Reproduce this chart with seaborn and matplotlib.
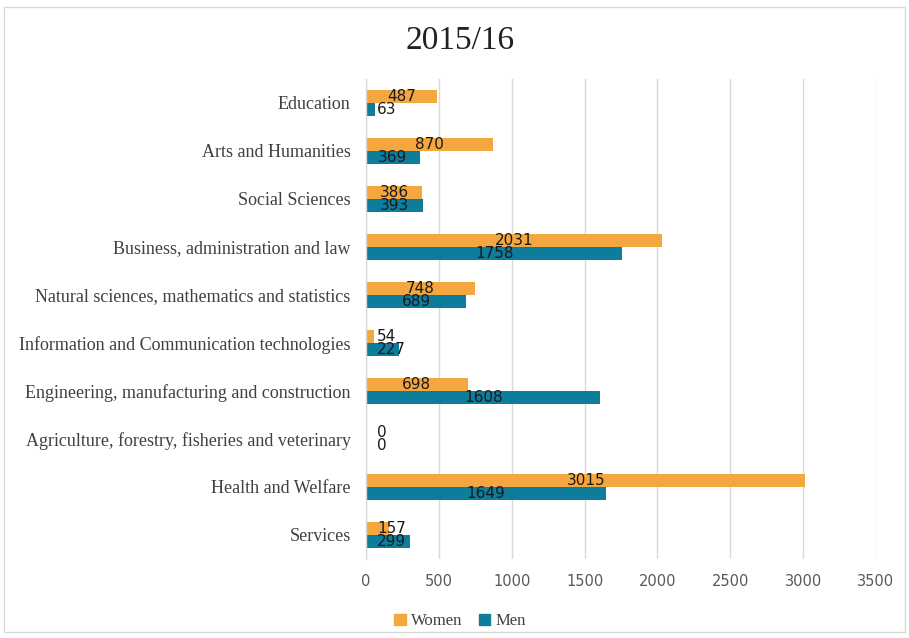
import matplotlib
matplotlib.use("Agg")
import matplotlib.pyplot as plt
import seaborn as sns
import pandas as pd
from matplotlib.patches import Rectangle

categories = [
    "Education",
    "Arts and Humanities",
    "Social Sciences",
    "Business, administration and law",
    "Natural sciences, mathematics and statistics",
    "Information and Communication technologies",
    "Engineering, manufacturing and construction",
    "Agriculture, forestry, fisheries and veterinary",
    "Health and Welfare",
    "Services",
]
women = [487, 870, 386, 2031, 748, 54, 698, 0, 3015, 157]
men = [63, 369, 393, 1758, 689, 227, 1608, 0, 1649, 299]
series = ["Women", "Men"]
x_ticks = [0, 500, 1000, 1500, 2000, 2500, 3000, 3500]

df = pd.DataFrame({
    "field": categories * 2,
    "count": women + men,
    "sex": ["Women"] * len(categories) + ["Men"] * len(categories),
})

sns.set_style("white")
fig = plt.figure(figsize=(9.09, 6.38), dpi=100)
ax = fig.add_axes([366 / 909, 1 - 559 / 638, 510 / 909, 480 / 638])

palette = {"Women": "#F5A73F", "Men": "#0E7C9B"}
sns.barplot(data=df, x="count", y="field", hue="sex", order=categories,
            hue_order=series, palette=palette, orient="h", width=0.54,
            saturation=1, ax=ax, legend=True, linewidth=0)

ax.set_xlim(0, 3500)
ax.set_xticks(x_ticks)
ax.set_xticklabels([str(t) for t in x_ticks], fontsize=10.5, color="#595959",
                   family="DejaVu Sans")
ax.set_ylabel("")
ax.set_xlabel("")
ax.tick_params(axis="x", length=0, pad=11)
ax.tick_params(axis="y", length=0, pad=11)
for lbl in ax.get_yticklabels():
    lbl.set_family("Liberation Serif")
    lbl.set_fontsize(13)
    lbl.set_color("#404040")
ax.grid(axis="x", color="#D9D9D9", linewidth=1)
ax.set_axisbelow(True)
for side in ["top", "right", "bottom"]:
    ax.spines[side].set_visible(False)
ax.spines["left"].set_color("#D9D9D9")
ax.spines["left"].set_linewidth(1)

# value labels, centred on each bar but kept clear of the axis line
texts = []
for container, vals in zip(ax.containers, [women, men]):
    for bar, v in zip(container, vals):
        yc = bar.get_y() + bar.get_height() / 2
        t = ax.text(v / 2, yc, str(v), ha="center", va="center",
                    fontsize=11, color="#1a1a1a", family="DejaVu Sans")
        texts.append(t)

fig.canvas.draw()
x0_px = ax.transData.transform((0, 0))[0]
min_left = x0_px + 11
for t in texts:
    bb = t.get_window_extent()
    if bb.x0 < min_left:
        xd = ax.transData.inverted().transform((min_left, 0))[0]
        t.set_x(xd)
        t.set_ha("left")

fig.text(460 / 909, 1 - 41 / 638, "2015/16", ha="center", va="center",
         fontsize=24, family="Liberation Serif", color="#222222")

leg = ax.get_legend()
leg.remove()
handles = [Rectangle((0, 0), 1, 1, color=palette[s]) for s in series]
fig.legend(handles, series, loc="center", bbox_to_anchor=(0.506, 0.026),
           ncol=2, frameon=False, handlelength=0.7, handleheight=0.7,
           handletextpad=0.3, columnspacing=1.0,
           prop={"family": "Liberation Serif", "size": 12})
for txt in fig.legends[0].get_texts():
    txt.set_color("#404040")

fig.patches.append(Rectangle((4 / 909, 1 - 632 / 638), 901 / 909, 625 / 638,
                             transform=fig.transFigure, fill=False,
                             edgecolor="#D9D9D9", linewidth=1))

fig.savefig("out.png", dpi=100)
